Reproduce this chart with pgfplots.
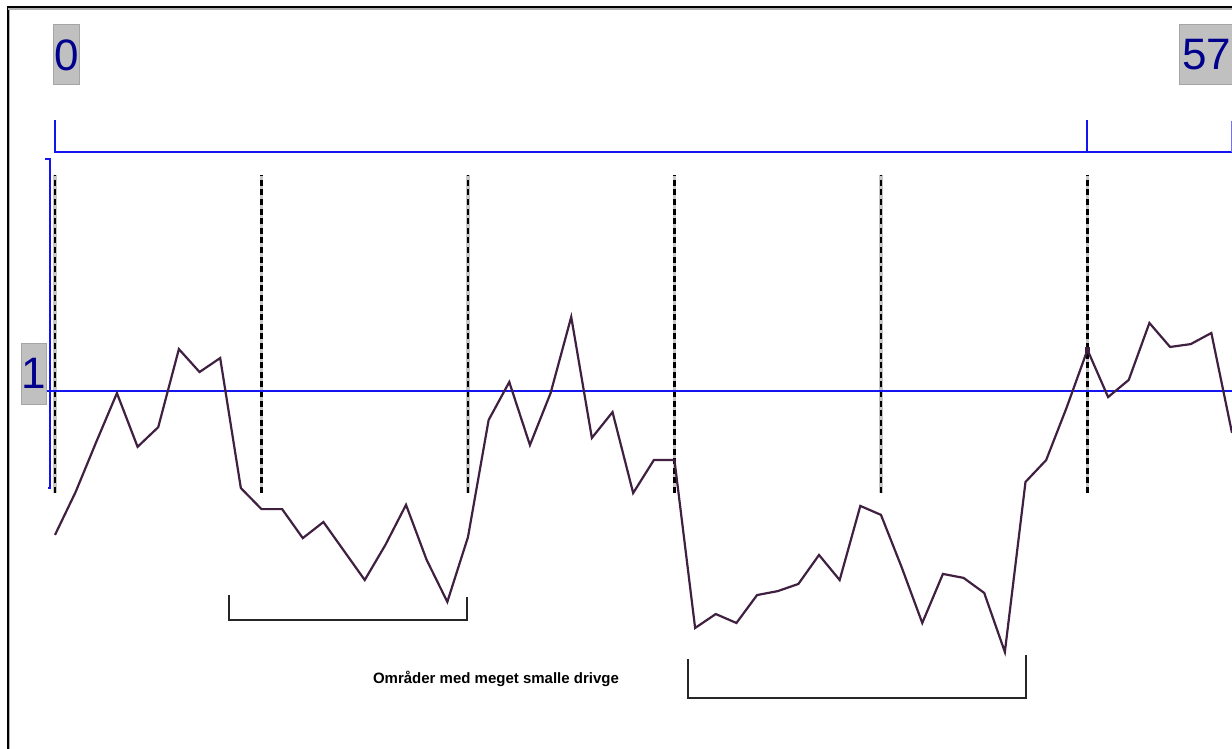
\documentclass[border=0pt]{standalone}
\usepackage{fontspec}
\setmainfont{Liberation Sans}
\usepackage{pgfplots}
\pgfplotsset{compat=1.18}
\definecolor{axblue}{RGB}{20,20,240}
\definecolor{dataline}{RGB}{64,32,64}
\definecolor{labnavy}{RGB}{0,0,140}
\definecolor{labgray}{RGB}{192,192,192}
\definecolor{labedge}{RGB}{165,165,165}
\newcommand{\px}[2]{(axis cs:{(#1-55)/20.65},{(749-#2)/358})}
\begin{document}
\begin{tikzpicture}
\begin{axis}[name=ax,
  scale only axis, width=616pt, height=374.5pt,
  xmin=-2.6634, xmax=57, ymin=0, ymax=2.0922,
  hide axis, clip=false]
% frame
\draw[gray!60, line width=1.5pt] \px{9}{8} -- \px{9}{749};
\draw[black, line width=1pt] \px{8}{7} -- \px{8}{749};
\draw[gray!60, line width=1.5pt] \px{8}{8.5} -- \px{1232}{8.5};
\draw[black, line width=1pt] \px{7}{7.5} -- \px{1232}{7.5};
% dashed vertical reference lines
\foreach \xx in {0,10,20,30,40,50} {
  \edef\temp{\noexpand\addplot[gray!45, line width=1.8pt, forget plot] coordinates {(\xx,0.7151) (\xx,1.6034)};
  \noexpand\addplot[black, line width=1.1pt, dash pattern=on 3pt off 1.8pt, forget plot] coordinates {(\xx,0.7151) (\xx,1.6034)};}
  \temp
}
% horizontal reference line at 1
\addplot[axblue, line width=1pt, forget plot] coordinates {(-0.484,1) (57,1)};
% left blue bracket (y-axis)
\draw[axblue, line width=1pt] \px{45}{159} -- \px{50.5}{159} -- \px{50.5}{488} -- \px{48}{488};
% top blue axis
\draw[axblue, line width=1pt] \px{55}{120} -- \px{55}{152} -- \px{1232}{152};
\draw[axblue, line width=1pt] \px{1087}{120} -- \px{1087}{152};
\draw[axblue!60, line width=0.6pt] \px{1231.5}{121} -- \px{1231.5}{152};
% data
\addplot[dataline, line width=1.1pt, forget plot] coordinates {
(0,0.598) (1,0.718) (2,0.858) (3,0.994) (4,0.844) (5,0.899) (6,1.117) (7,1.053)
(8,1.092) (9,0.729) (10,0.670) (11,0.670) (12,0.589) (13,0.634) (14,0.553) (15,0.472)
(16,0.570) (17,0.682) (18,0.528) (19,0.411) (20,0.592) (21,0.919) (22,1.025) (23,0.849)
(24,0.994) (25,1.207) (26,0.869) (27,0.941) (28,0.715) (29,0.807) (30,0.807) (31,0.338)
(32,0.377) (33,0.352) (34,0.430) (35,0.441) (36,0.461) (37,0.542) (38,0.472) (39,0.679)
(40,0.654) (41,0.508) (42,0.352) (43,0.489) (44,0.478) (45,0.436) (46,0.271) (47,0.746)
(48,0.807) (49,0.955) (50,1.115) (51,0.983) (52,1.031) (53,1.190) (54,1.123) (55,1.131)
(56,1.162) (57,0.883)};
\addplot[only marks, mark=square*, mark size=1.2pt, dataline, forget plot] coordinates {(50,1.115)};
% brackets
\draw[black!85, line width=1pt] \px{229}{595} -- \px{229}{620} -- \px{467}{620} -- \px{467}{597};
\draw[black!85, line width=1pt] \px{688}{659} -- \px{688}{698} -- \px{1026}{698} -- \px{1026}{655};
\node[font=\bfseries\fontsize{7.5}{8}\selectfont, inner sep=0pt] at \px{496}{679} {Områder med meget smalle drivge};
% labels
\node[fill=labgray, draw=labedge, line width=0.5pt, minimum width=13pt, minimum height=30pt, inner sep=0pt, text=labnavy, font=\fontsize{22}{22}\selectfont] at \px{67}{55} {0};
\node[fill=labgray, draw=labedge, line width=0.5pt, minimum width=27pt, minimum height=30pt, inner sep=0pt, text=labnavy, font=\fontsize{22}{22}\selectfont] at \px{1207}{55} {57};
\node[fill=labgray, draw=labedge, line width=0.5pt, minimum width=10pt, minimum height=30.5pt, inner sep=0pt, text=labnavy, font=\fontsize{22}{22}\selectfont] at \px{34}{373.5} {1};
\end{axis}
\pgfresetboundingbox
\path[use as bounding box] (ax.south west) rectangle (ax.north east);
\end{tikzpicture}
\end{document}
